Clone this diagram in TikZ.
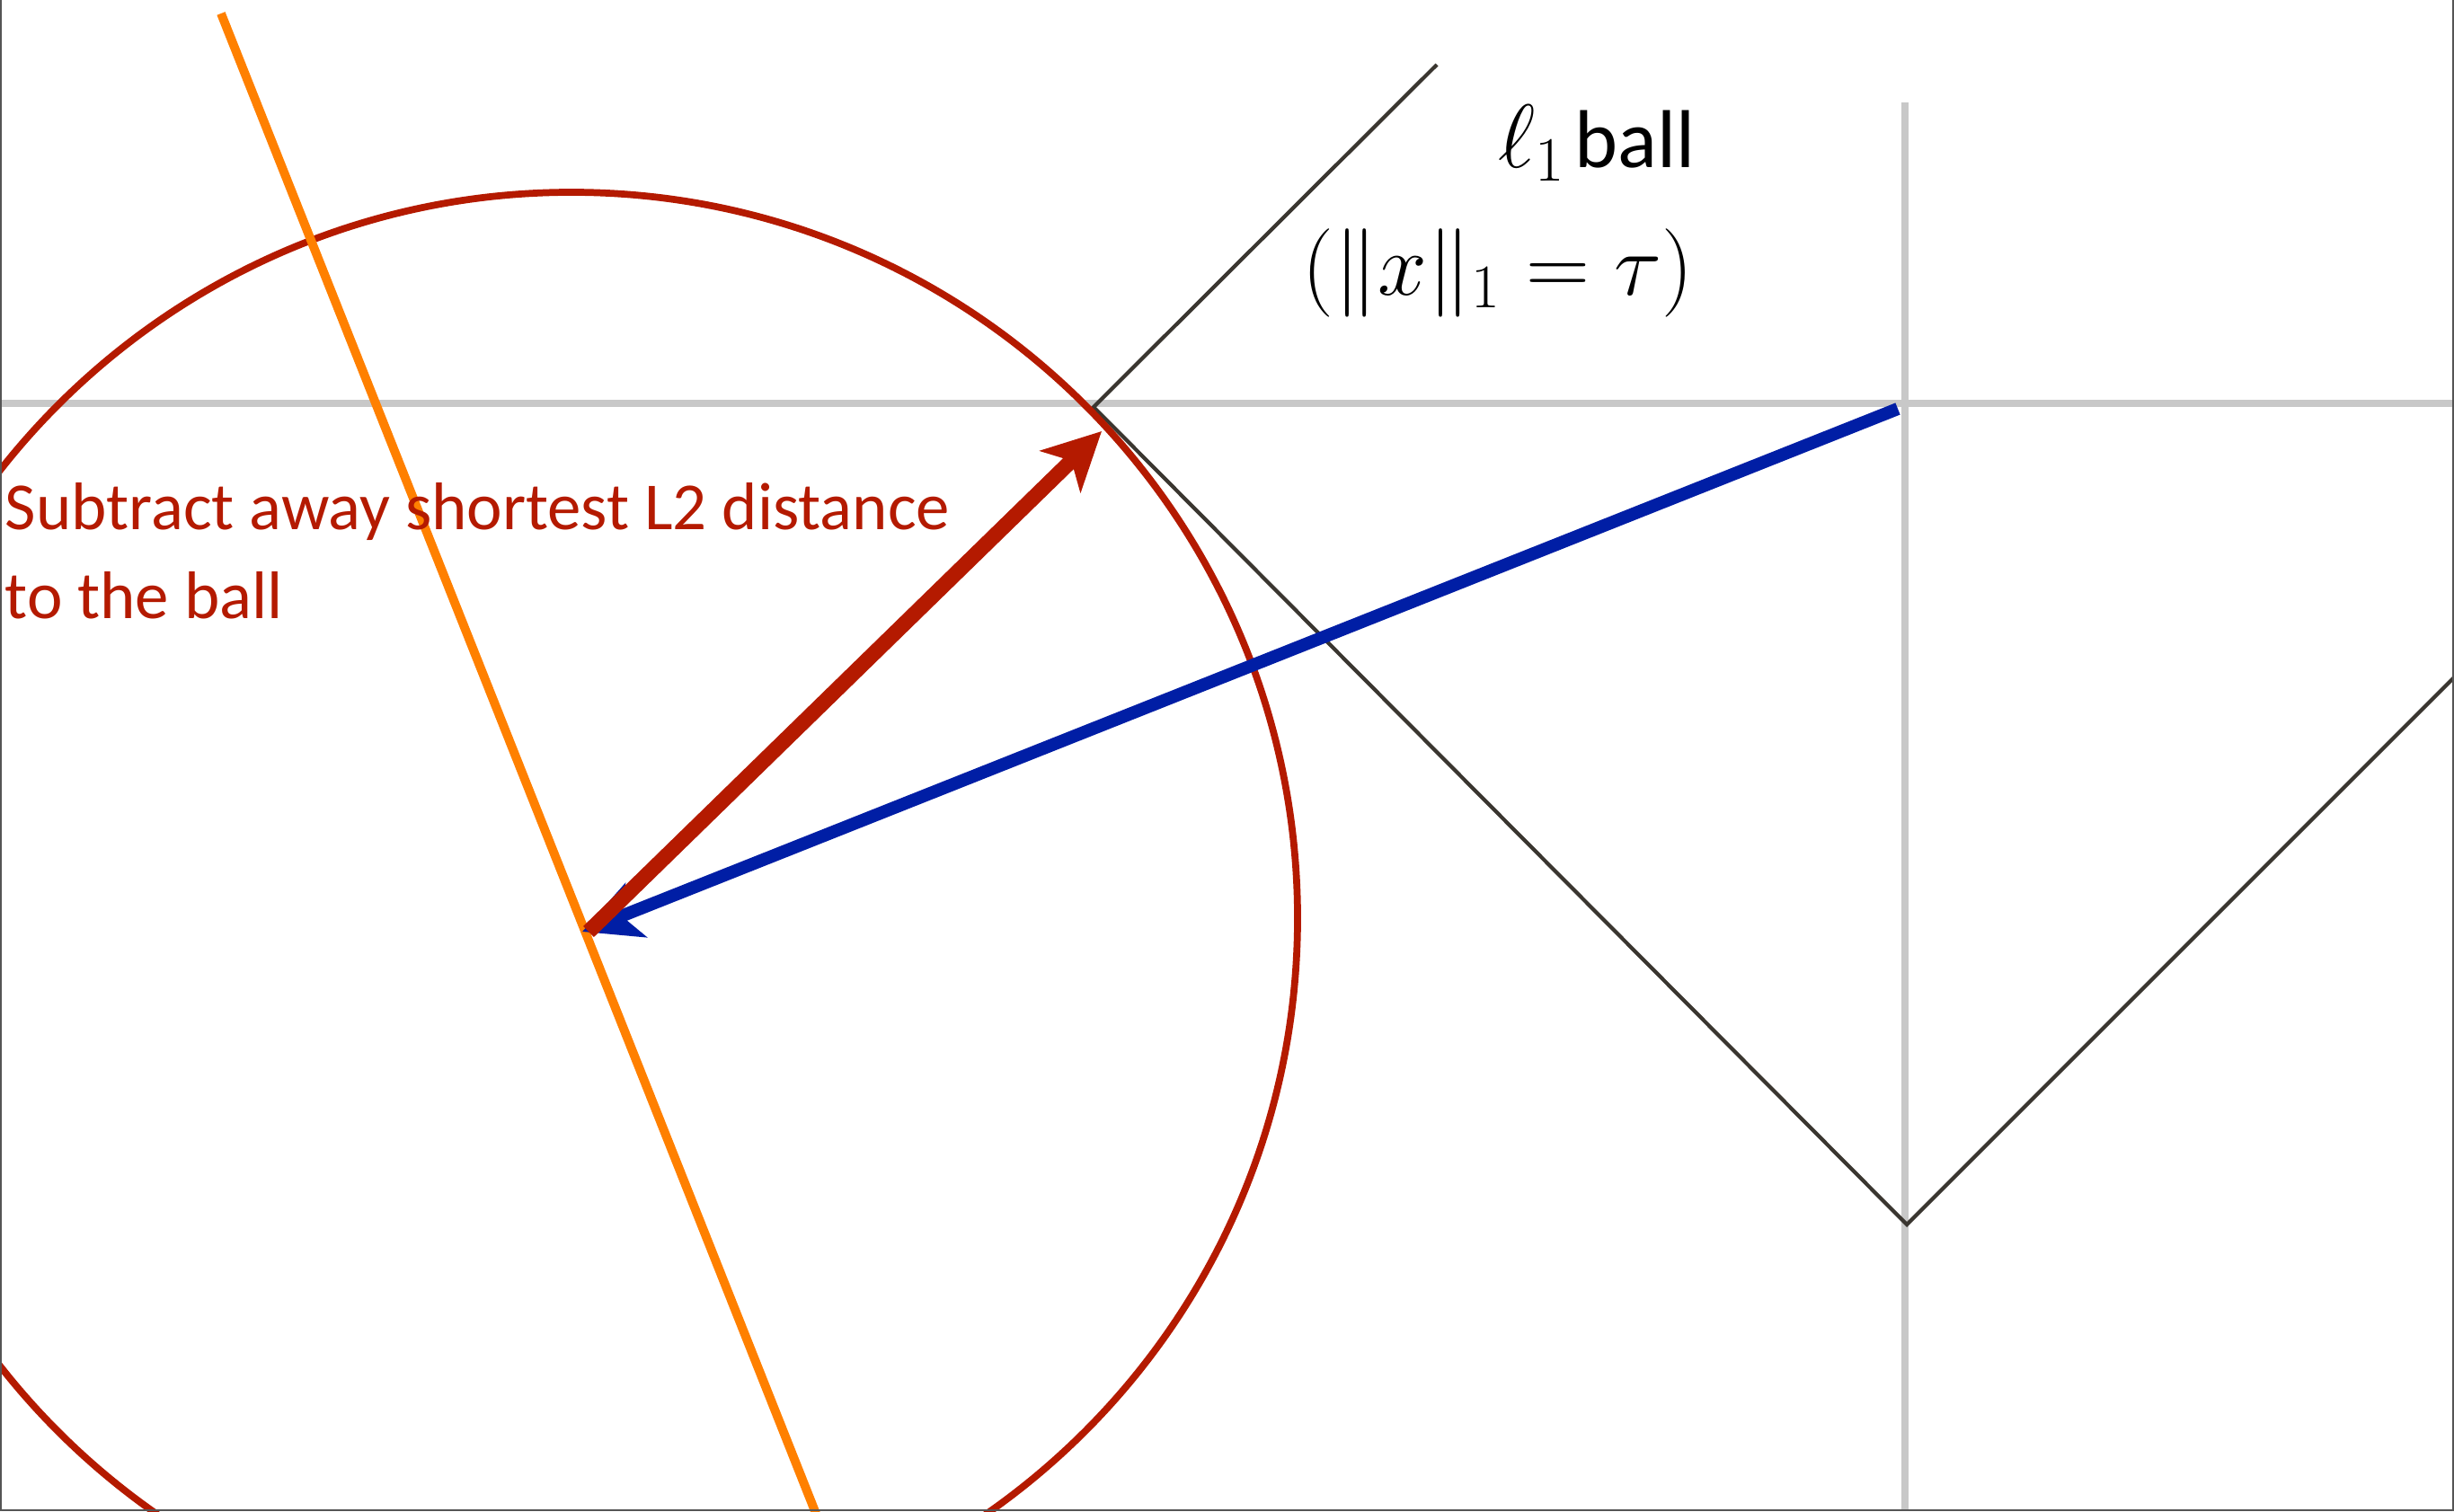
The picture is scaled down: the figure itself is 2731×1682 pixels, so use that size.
\RequirePackage{fix-cm}
\documentclass[tikz,border=0pt]{standalone}
\usepackage{fontspec}
\newfontfamily\calibri{Carlito}
\usetikzlibrary{arrows.meta}
\definecolor{axisgray}{RGB}{200,200,200}
\definecolor{balldark}{RGB}{58,54,48}
\definecolor{circred}{RGB}{180,26,0}
\definecolor{projorange}{RGB}{255,128,0}
\definecolor{vecblue}{RGB}{0,30,165}
\definecolor{framegray}{RGB}{85,85,85}
\begin{document}
\begin{tikzpicture}[x=0.01cm,y=-0.01cm,
  axis/.style={draw=axisgray, line width=2.1pt},
  ballline/.style={draw=balldark, line width=1.2pt},
  circ/.style={draw=circred, line width=2.2pt},
  proj/.style={draw=projorange, line width=2.8pt},
  vechead/.style={-{Stealth[length=0.64cm,width=0.64cm,inset=0.17cm]}},
  redvec/.style={draw=circred, line width=4.8pt, vechead},
  bluevec/.style={draw=vecblue, line width=4pt, vechead},
  redlabel/.style={text=circred, font=\calibri\fontsize{21.3}{25}\selectfont, inner sep=0pt, anchor=base west},
  framestyle/.style={draw=framegray, line width=0.6pt}]
\useasboundingbox (0,0) rectangle (2731,1682);
\begin{scope}
\clip (0,0) rectangle (2731,1682);
% axes
\draw[axis] (0,449) -- (2731,449);
\draw[axis] (2120,114) -- (2120,1682);
% l1 ball boundary
\draw[ballline, line join=miter] (1599,72) -- (1217,453) -- (2122,1363) -- (2740,745);
% L2 circle
\draw[circ] (636,1022) circle[radius=808];
% orange line
\draw[proj] (246,15) -- (920,1715);
% vectors
\coordinate (bluetail) at (2112,455);
\coordinate (bluetip) at (648,1037);
\coordinate (redtail) at (655,1037);
\coordinate (redtip) at (1226,480);
\draw[bluevec] (bluetail) -- (bluetip);
\draw[redvec] (redtail) -- (redtip);
\end{scope}
% labels
\node[redlabel] (sub1) at (5,589) {Subtract away shortest L2 distance};
\node[redlabel] (sub2) at (5,688) {to the ball};
\node[anchor=base west, inner sep=0pt] (balltitle) at (1667,186) {{\fontsize{28.5}{34}\selectfont$\ell_1$}\hspace{0.1cm}{\calibri\fontsize{26}{30}\selectfont ball}};
\node[anchor=base, inner sep=0pt, font=\fontsize{28}{33}\selectfont] (normeq) at (1667,328) {$(\|x\|_1=\tau)$};
% frame
\draw[framestyle] (1,0) -- (1,1681) -- (2730,1681) -- (2730,0);
\end{tikzpicture}
\end{document}
